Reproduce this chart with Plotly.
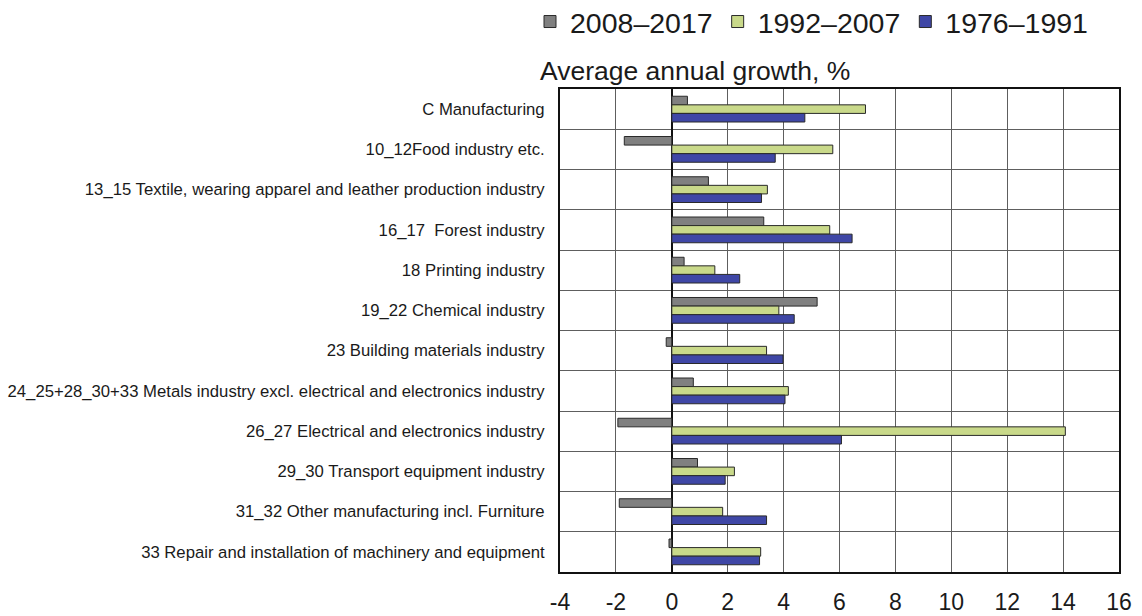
import plotly.graph_objects as go

categories = [
    "C Manufacturing",
    "10_12Food industry etc.",
    "13_15 Textile, wearing apparel and leather production industry",
    "16_17  Forest industry",
    "18 Printing industry",
    "19_22 Chemical industry",
    "23 Building materials industry",
    "24_25+28_30+33 Metals industry excl. electrical and electronics industry",
    "26_27 Electrical and electronics industry",
    "29_30 Transport equipment industry",
    "31_32 Other manufacturing incl. Furniture",
    "33 Repair and installation of machinery and equipment",
]
growth_2008_2017 = [0.56, -1.70, 1.31, 3.29, 0.44, 5.20, -0.20, 0.77, -1.93, 0.92, -1.88, -0.10]
growth_1992_2007 = [6.93, 5.76, 3.42, 5.65, 1.54, 3.83, 3.39, 4.17, 14.08, 2.24, 1.82, 3.18]
growth_1976_1991 = [4.76, 3.70, 3.21, 6.45, 2.43, 4.38, 3.98, 4.05, 6.07, 1.91, 3.39, 3.14]

series = [
    ("2008\u20132017", growth_2008_2017, "#808080"),
    ("1992\u20132007", growth_1992_2007, "#c9d98a"),
    ("1976\u20131991", growth_1976_1991, "#3f47a6"),
]

x_ticks = list(range(-4, 17, 2))

FONT = "Liberation Sans, Arial, sans-serif"

fig = go.Figure()
for name, vals, color in series:
    fig.add_trace(go.Bar(
        y=categories, x=vals, name=name, orientation="h",
        marker=dict(color=color, line=dict(color="#2a2a2a", width=1)),
    ))

W, H = 1142, 616
L, R, T, B = 560, 23, 89, 44
pw = W - L - R
ph = H - T - B

fig.update_layout(
    width=W, height=H,
    margin=dict(l=L, r=R, t=T, b=B, autoexpand=False),
    paper_bgcolor="white", plot_bgcolor="white",
    barmode="group", bargap=0.36, bargroupgap=0.0,
    font=dict(family=FONT, color="#1a1a1a"),
    legend=dict(
        orientation="h", x=(530 - L) / pw, xanchor="left",
        y=1 + (T - 22) / ph, yanchor="middle",
        font=dict(size=28.5, family=FONT, color="#1a1a1a"),
        traceorder="normal", itemwidth=30,
        bgcolor="rgba(0,0,0,0)",
    ),
    xaxis=dict(
        range=[-4, 16], tickvals=x_ticks, ticktext=[str(v) for v in x_ticks],
        showgrid=True, gridcolor="#5e5e5e", gridwidth=1.3,
        zeroline=True, zerolinecolor="#111111", zerolinewidth=2,
        showline=True, linecolor="#111111", linewidth=2, mirror=True,
        tickfont=dict(size=23, family=FONT, color="#1a1a1a"),
        ticks="", ticklabelstandoff=8,
    ),
    yaxis=dict(
        type="category", autorange="reversed", tickson="boundaries",
        showgrid=True, gridcolor="#5e5e5e", gridwidth=1.3,
        showline=True, linecolor="#111111", linewidth=2, mirror=True,
        tickfont=dict(size=16.7, family=FONT, color="#1a1a1a"),
        ticks="", ticklabelstandoff=10,
    ),
    annotations=[dict(
        text="Average annual growth, %", xref="paper", yref="paper",
        x=(538 - L) / pw, xanchor="left",
        y=1 + (T - 71) / ph, yanchor="middle",
        showarrow=False, font=dict(size=26.5, family=FONT, color="#1a1a1a"),
    )],
)

# remove the browser's default 8 px body margin so the figure fills the window
fig.write_html(
    "out.html",
    config={"displayModeBar": False},
    post_script="document.body.style.margin='0';",
)
